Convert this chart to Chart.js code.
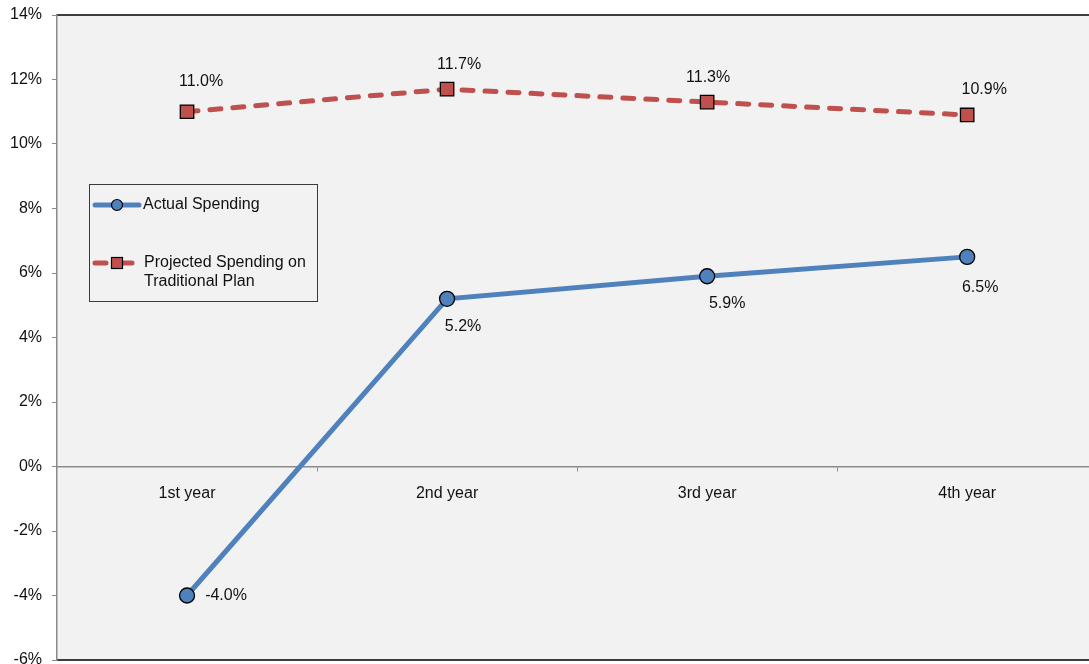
<!DOCTYPE html>
<html>
<head>
<meta charset="utf-8">
<script src="https://cdn.jsdelivr.net/npm/chart.js@4.4.1/dist/chart.umd.min.js"></script>
<style>
  html, body { margin: 0; padding: 0; background: #ffffff; overflow: hidden; }
  canvas { display: block; }
</style>
</head>
<body>
<canvas id="c" width="1108" height="680"></canvas>
<script>
// ---- data ----
const categories = ['1st year', '2nd year', '3rd year', '4th year'];
const actualSpending = [-4.0, 5.2, 5.9, 6.5];
const projectedSpending = [11.0, 11.7, 11.3, 10.9];
const seriesNames = ['Actual Spending', 'Projected Spending on Traditional Plan'];
const yTickMin = -6, yTickMax = 14, yTickStep = 2;

// ---- label placement (style, not data) ----
const actualLabelOffsets = [[39, 0], [16, 28], [20, 27], [13, 31]];
const projectedLabelOffsets = [[14, -30], [12, -25], [1, -24], [17, -25]];

const FONT = '"Liberation Sans", Arial, Helvetica, sans-serif';
const BLUE = '#4f81bd';
const RED = '#c0504d';

const plotBackground = {
  id: 'plotBackground',
  beforeDraw(chart) {
    const {ctx, chartArea: a} = chart;
    ctx.save();
    ctx.fillStyle = '#f2f2f2';
    ctx.fillRect(a.left, a.top, a.right - a.left, a.bottom - a.top);
    ctx.strokeStyle = '#000000';
    ctx.lineWidth = 1.5;
    ctx.beginPath();
    ctx.moveTo(a.left, a.top);
    ctx.lineTo(a.right, a.top);
    ctx.moveTo(a.left, a.bottom);
    ctx.lineTo(a.right, a.bottom);
    ctx.stroke();
    ctx.restore();
  }
};

const valueLabels = {
  id: 'valueLabels',
  afterDatasetsDraw(chart) {
    const {ctx} = chart;
    const offsets = [actualLabelOffsets, projectedLabelOffsets];
    ctx.save();
    ctx.font = '16px ' + FONT;
    ctx.fillStyle = '#111111';
    ctx.textAlign = 'center';
    ctx.textBaseline = 'middle';
    chart.data.datasets.forEach((ds, di) => {
      const meta = chart.getDatasetMeta(di);
      meta.data.forEach((pt, i) => {
        const o = offsets[di][i];
        ctx.fillText(ds.data[i].toFixed(1) + '%', pt.x + o[0], pt.y + o[1]);
      });
    });
    ctx.restore();
  }
};

const boxLegend = {
  id: 'boxLegend',
  afterDraw(chart) {
    const {ctx} = chart;
    const ds = chart.data.datasets;
    ctx.save();
    ctx.fillStyle = '#f2f2f2';
    ctx.fillRect(89.5, 184.5, 228, 117);
    ctx.strokeStyle = '#3a3a3a';
    ctx.lineWidth = 1;
    ctx.strokeRect(89.5, 184.5, 228, 117);

    let y = 205;
    ctx.strokeStyle = ds[0].borderColor;
    ctx.lineWidth = 5;
    ctx.lineCap = 'round';
    ctx.beginPath();
    ctx.moveTo(95, y); ctx.lineTo(139, y);
    ctx.stroke();
    ctx.beginPath();
    ctx.arc(117, y, 5.5, 0, Math.PI * 2);
    ctx.fillStyle = ds[0].pointBackgroundColor;
    ctx.fill();
    ctx.lineWidth = 1.2;
    ctx.strokeStyle = '#000';
    ctx.stroke();

    y = 263;
    ctx.strokeStyle = ds[1].borderColor;
    ctx.lineWidth = 5;
    ctx.beginPath();
    ctx.moveTo(95, y); ctx.lineTo(106, y);
    ctx.moveTo(122, y); ctx.lineTo(132, y);
    ctx.stroke();
    ctx.fillStyle = ds[1].pointBackgroundColor;
    ctx.fillRect(111.5, y - 5.5, 11, 11);
    ctx.lineWidth = 1.2;
    ctx.strokeStyle = '#000';
    ctx.strokeRect(111.5, y - 5.5, 11, 11);

    ctx.font = '16px ' + FONT;
    ctx.fillStyle = '#111111';
    ctx.textAlign = 'left';
    ctx.textBaseline = 'middle';
    ctx.fillText(ds[0].label, 143, 205);
    ctx.fillText('Projected Spending on', 144, 263);
    ctx.fillText('Traditional Plan', 144, 282);
    ctx.restore();
  }
};

function zeroPad(scale) {
  scale.paddingTop = 0;
  scale.paddingBottom = 0;
  scale.paddingLeft = 0;
  scale.paddingRight = 0;
}

new Chart(document.getElementById('c'), {
  type: 'line',
  data: {
    labels: categories,
    datasets: [
      {
        label: seriesNames[0],
        data: actualSpending,
        borderColor: BLUE,
        borderWidth: 5,
        pointStyle: 'circle',
        pointRadius: 7.5,
        pointBackgroundColor: BLUE,
        pointBorderColor: '#000000',
        pointBorderWidth: 1.3,
        tension: 0,
        borderCapStyle: 'round'
      },
      {
        label: seriesNames[1],
        data: projectedSpending,
        borderColor: RED,
        borderWidth: 5,
        borderDash: [11, 12],
        borderCapStyle: 'round',
        pointStyle: 'rect',
        pointRadius: 9.5,
        pointBackgroundColor: RED,
        pointBorderColor: '#000000',
        pointBorderWidth: 1.3,
        tension: 0
      }
    ]
  },
  options: {
    responsive: false,
    animation: false,
    devicePixelRatio: 1,
    layout: { padding: { left: 0, top: 15, right: 1, bottom: 20 } },
    plugins: {
      legend: { display: false },
      tooltip: { enabled: false },
      title: { display: false }
    },
    scales: {
      x: {
        type: 'category',
        offset: true,
        position: { y: 0 },
        afterFit: zeroPad,
        grid: {
          offset: true,
          drawOnChartArea: false,
          drawTicks: true,
          tickLength: 4,
          tickColor: '#8a8a8a',
          tickWidth: 1
        },
        border: { display: true, color: '#8a8a8a', width: 1.5 },
        ticks: {
          color: '#111111',
          font: { family: FONT, size: 16 },
          padding: 13,
          maxRotation: 0,
          autoSkip: false
        }
      },
      y: {
        min: yTickMin,
        max: yTickMax,
        afterFit(scale) { scale.width = 57; zeroPad(scale); },
        grid: {
          drawOnChartArea: false,
          drawTicks: true,
          tickLength: 5,
          tickColor: '#8a8a8a'
        },
        border: { display: true, color: '#8a8a8a', width: 1.5 },
        ticks: {
          stepSize: yTickStep,
          color: '#111111',
          font: { family: FONT, size: 16 },
          padding: 10,
          callback: (v) => v + '%'
        }
      }
    }
  },
  plugins: [plotBackground, valueLabels, boxLegend]
});
</script>
</body>
</html>
